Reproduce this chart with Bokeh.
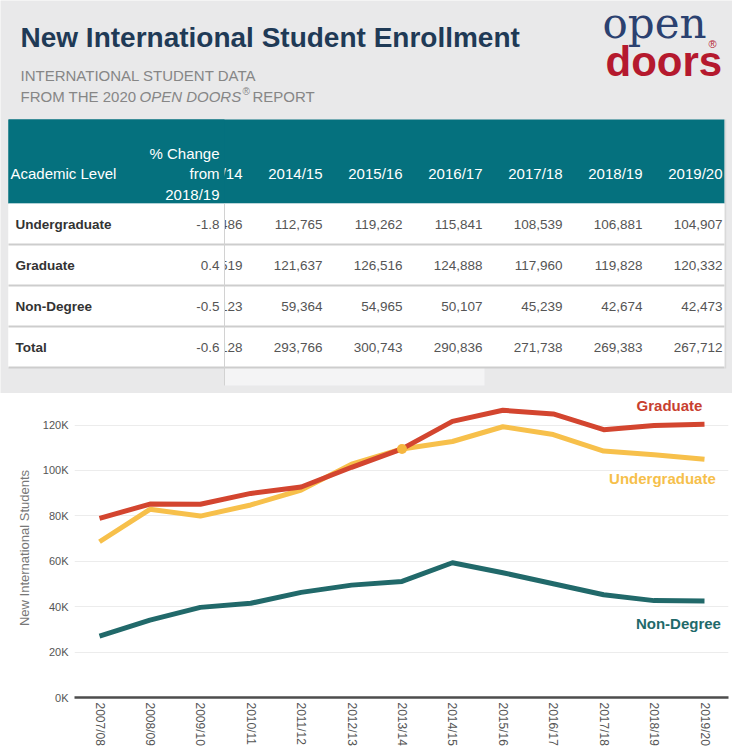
from bokeh.plotting import figure
from bokeh.layouts import column
from bokeh.models import Range1d, FixedTicker
from bokeh.core.properties import value
from bokeh.embed import file_html
from bokeh.resources import INLINE

# ---------------- data ----------------
title = "New International Student Enrollment"
subtitle_line1 = "INTERNATIONAL STUDENT DATA"
subtitle_parts = ["FROM THE 2020 ", "OPEN DOORS", "®", "REPORT"]
logo_top = "open"
logo_bottom = "doors"

table_levels = ["Undergraduate", "Graduate", "Non-Degree", "Total"]
table_pct_change = ["-1.8", "0.4", "-0.5", "-0.6"]
table_years = ["2013/14", "2014/15", "2015/16", "2016/17", "2017/18", "2018/19", "2019/20"]
table_undergrad = [109486, 112765, 119262, 115841, 108539, 106881, 104907]
table_graduate = [109519, 121637, 126516, 124888, 117960, 119828, 120332]
table_nondegree = [51123, 59364, 54965, 50107, 45239, 42674, 42473]
table_total = [270128, 293766, 300743, 290836, 271738, 269383, 267712]

years = ["2007/08", "2008/09", "2009/10", "2010/11", "2011/12", "2012/13", "2013/14",
         "2014/15", "2015/16", "2016/17", "2017/18", "2018/19", "2019/20"]
undergrad = [68600, 82900, 79900, 84800, 91400, 102800, 109486,
             112765, 119262, 115841, 108539, 106881, 104907]
graduate = [78900, 85200, 85100, 89900, 92700, 101400, 109519,
            121637, 126516, 124888, 117960, 119828, 120332]
nondegree = [27000, 34100, 39700, 41500, 46300, 49500, 51123,
             59364, 54965, 50107, 45239, 42674, 42473]
y_ticks = [0, 20000, 40000, 60000, 80000, 100000, 120000]
y_tick_labels = ["0K", "20K", "40K", "60K", "80K", "100K", "120K"]
series_names = ["Graduate", "Undergraduate", "Non-Degree"]

# ---------------- styles ----------------
FONT = value("Liberation Sans")
BG = "#e9e9ea"
TEAL = "#05717e"
NAVY = "#1f3a56"
RED = "#b5192e"
SUB = "#868686"
C_GRAD = "#d3452f"
C_UG = "#f7c04b"
C_ND = "#21696a"


def no_align(fig):
    if "frame_align" in fig.properties():
        fig.frame_align = False


# ---------------- header + table figure ----------------
top = figure(width=732, height=393, x_range=Range1d(0, 732), y_range=Range1d(393, 0),
             output_backend="svg", toolbar_location=None, min_border=0)
no_align(top)
top.axis.visible = False
top.grid.visible = False
top.outline_line_color = None
top.background_fill_color = BG
top.border_fill_color = BG

top.text(x=[20], y=[37], text=[title], text_font=FONT, text_font_size="28px",
         text_font_style="bold", text_color=NAVY, text_baseline="middle")
top.text(x=[20], y=[75], text=[subtitle_line1], text_font=FONT, text_font_size="15px",
         text_color=SUB, text_baseline="middle")
top.text(x=[20], y=[96], text=[subtitle_parts[0]], text_font=FONT, text_font_size="15px",
         text_color=SUB, text_baseline="middle")
top.text(x=[139], y=[96], text=[subtitle_parts[1]], text_font=FONT, text_font_size="15px",
         text_font_style="italic", text_color=SUB, text_baseline="middle")
top.text(x=[242], y=[91], text=[subtitle_parts[2]], text_font=FONT, text_font_size="10px",
         text_color=SUB, text_baseline="middle")
top.text(x=[252], y=[96], text=[subtitle_parts[3]], text_font=FONT, text_font_size="15px",
         text_color=SUB, text_baseline="middle")

# logo
top.text(x=[602], y=[23], text=[logo_top], text_font=value("DejaVu Serif"), text_font_size="42px",
         text_color="#2b4170", text_baseline="middle")
top.text(x=[605], y=[61], text=[logo_bottom], text_font=FONT, text_font_size="42px",
         text_font_style="bold", text_color=RED, text_baseline="middle")
top.text(x=[708], y=[43], text=["®"], text_font=FONT, text_font_size="11px",
         text_color=RED, text_baseline="middle")

# table backgrounds
top.quad(left=[8], right=[724], top=[119], bottom=[203], fill_color=TEAL, line_color=None)
top.quad(left=[8], right=[724], top=[203], bottom=[367], fill_color="white", line_color=None)
top.quad(left=[224], right=[484], top=[367], bottom=[385], fill_color="#f4f4f5", line_color=None)

row_y = [223.5, 264.5, 305.5, 346.5]
col_right = [242 + 80 * j for j in range(len(table_years))]
rows = [table_undergrad, table_graduate, table_nondegree, table_total]

top.text(x=col_right, y=[173] * len(col_right), text=table_years, text_font=FONT,
         text_font_size="15px", text_color="white", text_align="right", text_baseline="middle")
for ry, vals in zip(row_y, rows):
    top.text(x=col_right, y=[ry] * len(vals), text=[f"{v:,}" for v in vals], text_font=FONT,
             text_font_size="13.5px", text_color="#555555", text_align="right",
             text_baseline="middle")

# frozen first columns cover scrolled content
top.quad(left=[8], right=[224], top=[119], bottom=[203], fill_color=TEAL, line_color=None)
top.quad(left=[8], right=[224], top=[203], bottom=[367], fill_color="white", line_color=None)

top.segment(x0=[8] * 4, x1=[724] * 4, y0=[244, 285, 326, 367], y1=[244, 285, 326, 367],
            line_color="#cdcdcd", line_width=2)
top.segment(x0=[224], x1=[224], y0=[203], y1=[385], line_color="#d2d2d2", line_width=1)
top.segment(x0=[725], x1=[725], y0=[119], y1=[368], line_color="#d9d9d9", line_width=1.5)

top.text(x=[10], y=[173], text=["Academic Level"], text_font=FONT, text_font_size="15px",
         text_color="white", text_baseline="middle")
top.text(x=[219] * 3, y=[153, 173, 194], text=["% Change", "from", "2018/19"], text_font=FONT,
         text_font_size="15px", text_color="white", text_align="right", text_baseline="middle")
top.text(x=[15] * 4, y=row_y, text=table_levels, text_font=FONT, text_font_size="13.5px",
         text_font_style="bold", text_color="#333333", text_baseline="middle")
top.text(x=[219] * 4, y=row_y, text=table_pct_change, text_font=FONT, text_font_size="13.5px",
         text_color="#555555", text_align="right", text_baseline="middle")

# ---------------- line chart ----------------
xs = list(range(len(years)))
chart = figure(width=732, height=362, x_range=Range1d(-0.496, 12.476), y_range=Range1d(0, 131700),
               output_backend="svg", toolbar_location=None,
               min_border_left=74, min_border_right=4, min_border_top=5, min_border_bottom=58)
no_align(chart)
chart.background_fill_color = "white"
chart.border_fill_color = "white"
chart.outline_line_color = None
chart.xgrid.visible = False
chart.ygrid.ticker = FixedTicker(ticks=y_ticks)
chart.ygrid.grid_line_color = "#ececec"

chart.yaxis.ticker = FixedTicker(ticks=y_ticks)
chart.yaxis.major_label_overrides = dict(zip(y_ticks, y_tick_labels))
chart.yaxis.axis_line_color = None
chart.yaxis.major_tick_line_color = None
chart.yaxis.minor_tick_line_color = None
chart.yaxis.major_tick_out = 0
chart.yaxis.minor_tick_out = 0
chart.yaxis.major_label_standoff = 6
chart.yaxis.major_label_text_font = "Liberation Sans"
chart.yaxis.major_label_text_font_size = "11px"
chart.yaxis.major_label_text_color = "#555555"
chart.yaxis.axis_label = "New International Students"
chart.yaxis.axis_label_text_font = "Liberation Sans"
chart.yaxis.axis_label_text_font_size = "13px"
chart.yaxis.axis_label_text_font_style = "normal"
chart.yaxis.axis_label_text_color = "#777777"
chart.yaxis.axis_label_standoff = 8

chart.xaxis.ticker = FixedTicker(ticks=xs)
chart.xaxis.major_label_overrides = dict(zip(xs, years))
chart.xaxis.major_label_orientation = "vertical"
chart.xaxis.axis_line_color = "#4d4d4d"
chart.xaxis.axis_line_width = 2.5
chart.xaxis.major_tick_line_color = None
chart.xaxis.minor_tick_line_color = None
chart.xaxis.major_tick_out = 0
chart.xaxis.minor_tick_out = 0
chart.xaxis.major_label_standoff = 5
chart.xaxis.major_label_text_font = "Liberation Sans"
chart.xaxis.major_label_text_font_size = "12px"
chart.xaxis.major_label_text_color = "#555555"

chart.line(xs, undergrad, line_color=C_UG, line_width=5, line_join="round")
chart.line(xs, graduate, line_color=C_GRAD, line_width=5, line_join="round")
chart.line(xs, nondegree, line_color=C_ND, line_width=5, line_join="round")
chart.scatter([xs[6]], [undergrad[6]], size=10, fill_color="#f5b63f", line_color=None)

label_x = [11.305, 11.166, 11.483]
label_y = [128800, 96600, 32600]
label_colors = ["#c8402f", "#f6bf4b", "#1f6a6a"]
chart.text(x=label_x, y=label_y, text=series_names, text_font=FONT, text_font_size="15px",
           text_font_style="bold", text_color=label_colors, text_align="center",
           text_baseline="middle")

page = column(top, chart, spacing=0)
open("out.html", "w").write(file_html(page, INLINE))
